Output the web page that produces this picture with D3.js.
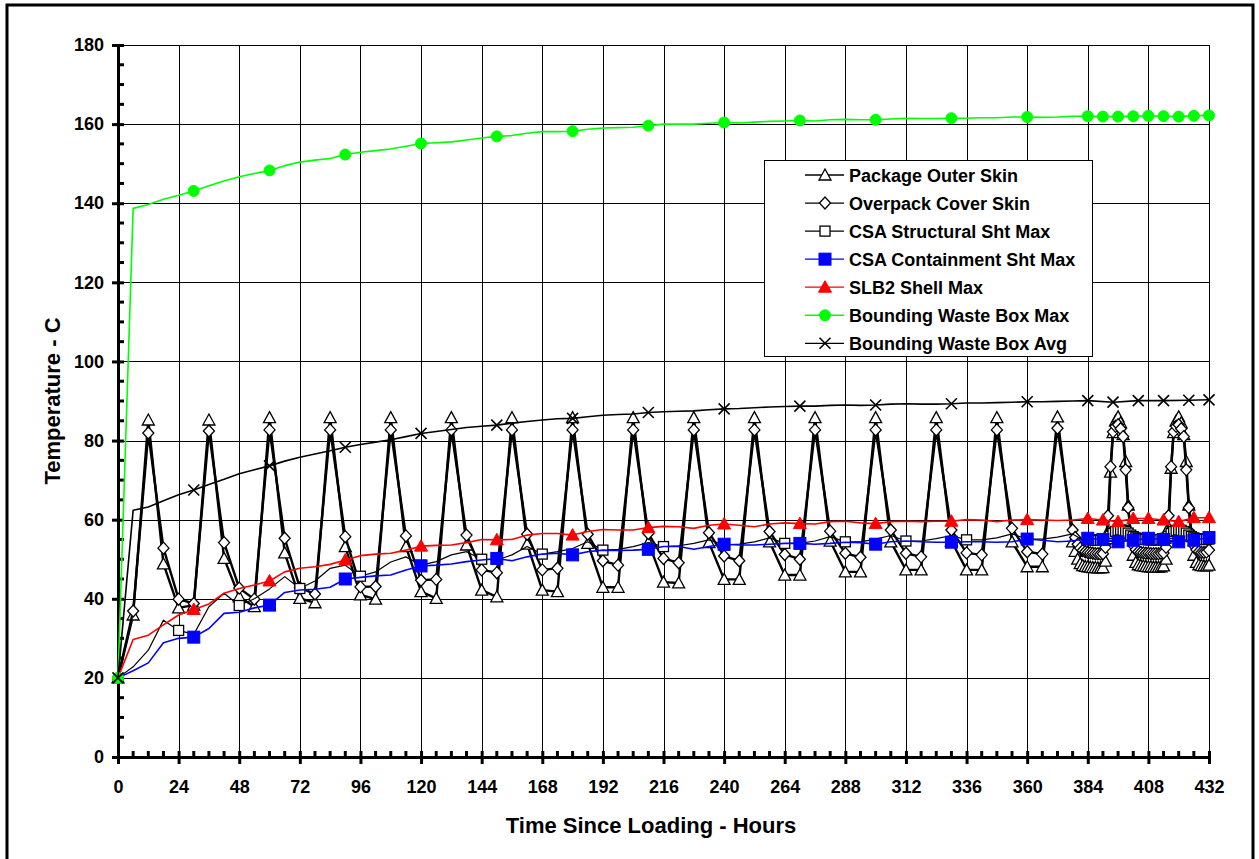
<!DOCTYPE html>
<html>
<head>
<meta charset="utf-8">
<script src="https://cdn.jsdelivr.net/npm/d3@7/dist/d3.min.js"></script>
<style>
  html, body { margin: 0; padding: 0; background: #fff; }
  svg { display: block; font-family: "Liberation Sans", Arial, sans-serif; }
</style>
</head>
<body>
<svg id="chart" width="1259" height="859"></svg>
<script>
// ---------------- DATA ----------------
// main sampling grid (hours), every 6 h from 0 to 378
const hours = [0,6,12,18,24,30,36,42,48,54,60,66,72,78,84,90,96,102,108,114,120,126,132,138,144,150,156,162,168,174,180,186,192,198,204,210,216,222,228,234,240,246,252,258,264,270,276,282,288,294,300,306,312,318,324,330,336,342,348,354,360,366,372,378];
// hourly tail for the skin / structural sheet series
const hoursHourly = [379,380,381,382,383,384,385,386,387,388,389,390,391,392,393,394,395,396,397,398,399,400,401,402,403,404,405,406,407,408,409,410,411,412,413,414,415,416,417,418,419,420,421,422,423,424,425,426,427,428,429,430,431,432];
// 6-hourly tail for the other series
const hoursTail6 = [384,390,396,402,408,414,420,426,432];
const hoursTailAvg = [384,394,404,414,424,432];

const xTicks = [0,24,48,72,96,120,144,168,192,216,240,264,288,312,336,360,384,408,432];
const yTicks = [0,20,40,60,80,100,120,140,160,180];

const markHours24 = [24,48,72,96,120,144,168,192,216,240,264,288,312,336,360];
const markHours30 = [30,60,90,120,150,180,210,240,270,300,330,360];

const packageOuterSkin = [20,35.9,85.2,48.8,37.7,38.4, 85.2,50.2,40.5,38.0, 85.8,51.6,40.1,39.0, 85.8,53.2,41.0,39.9, 85.8,53.2,41.8,40.1, 85.8,53.6,42.2,40.5, 85.8,53.8,42.2,41.8, 85.8,54.0,42.9,42.9, 85.8,54.2,44.2,44.0, 85.8,54.2,44.9,44.9, 85.8,54.4,46.0,46.0, 85.8,54.6,46.8,46.8, 85.8,54.4,47.3,47.3, 85.8,54.6,47.3,47.3, 85.8,54.4,48.1,48.1, 86.0,54.4];
const packageOuterSkinTail = [52.0,50.0,48.9,48.4,48.2,48.1,48.0,47.9,47.9,47.8,47.8,47.9,49.5,57.0,72.0,82.0,85.0,86.0,84.5,81.5,74.7,63.7,56.0,51.0,49.2,48.6,48.4,48.3,48.2,48.1,48.1,48.0,48.0,48.0,48.1,48.3,50.0,58.0,73.0,82.0,85.0,86.0,84.5,81.5,74.7,63.7,56.0,51.0,49.2,48.6,48.4,48.3,48.3,48.5];

const overpackCoverSkin = [20,36.9,81.9,52.8,39.9,38.8, 82.4,54.2,42.7,39.9, 82.7,55.3,42.8,41.2, 82.7,55.7,43.0,43.1, 82.7,55.9,44.7,44.9, 82.7,56.1,47.3,46.6, 82.7,56.3,47.3,47.7, 82.7,56.3,49.6,48.5, 82.7,56.5,50.2,49.1, 82.7,56.7,50.8,49.6, 82.7,57.0,51.2,50.0, 82.7,57.1,51.5,50.5, 82.7,57.4,51.5,50.6, 82.7,57.4,51.6,51.1, 82.7,57.8,51.9,51.3, 83.1,57.4];
const overpackCoverSkinTail = [55.5,53.8,52.8,52.2,51.9,51.7,51.6,51.5,51.4,51.4,51.3,51.4,53.0,61.0,73.4,82.2,83.6,84.0,83.0,81.0,72.6,63.0,56.5,53.5,52.4,51.9,51.7,51.6,51.5,51.5,51.4,51.4,51.4,51.4,51.5,51.6,53.0,61.0,73.4,82.2,83.6,84.0,83.0,81.0,72.6,63.0,56.5,53.5,52.4,51.9,51.7,51.7,51.8,52.3];

const csaStructural = [20,22.8,27.0,34.6,32.0,31.0, 38.0,41.4,38.3,40.0, 42.5,45.6,42.6,44.5, 47.7,48.5,45.7,46.8, 49.3,50.6,48.5,49.4, 51.1,51.9,50.0,49.8, 51.1,53.2,51.3,51.9, 52.7,54.4,52.3,52.5, 53.2,54.2,53.2,53.4, 54.0,54.9,53.6,53.8, 54.4,55.4,54.0,54.0, 54.6,55.7,54.4,54.4, 55.1,56.0,54.6,54.6, 55.2,56.0,54.9,54.9, 55.4,56.4,55.1,55.1, 55.6,56.4];
const csaStructuralTail = [56.0,55.6,55.3,55.1,55.0,55.0,54.9,54.9,54.8,54.8,54.8,54.8,54.9,55.2,55.8,56.5,57.0,57.3,57.4,57.3,57.0,56.6,56.1,55.7,55.4,55.2,55.1,55.0,55.0,54.9,54.9,54.9,54.9,54.9,55.0,55.1,55.3,55.8,56.5,57.0,57.3,57.4,57.3,57.0,56.6,56.1,55.7,55.4,55.2,55.1,55.0,55.0,55.0,55.1];

const csaContainment = [20,21.8,23.8,28.9,30.0,30.3, 32.5,36.3,36.6,37.7, 38.4,41.6,42.2,42.4, 42.9,45.0,45.4,45.8, 46.0,47.3,48.3,48.5, 48.8,49.4,49.8,50.2, 49.6,50.6,51.3,51.5, 51.1,51.9,52.3,52.2, 52.3,52.5,53.2,53.2, 52.5,53.2,53.8,53.6, 53.6,53.8,54.0,54.0, 53.8,54.0,54.3,54.2, 53.8,54.4,54.6,54.4, 54.3,54.3,54.4,54.4, 54.3,54.4,55.1,54.8, 54.4,54.6];
const csaContainmentTail = [55.3,55.0,54.4,54.8,55.3,55.0,54.4,54.8,55.5];

const slb2Shell = [20,29.7,30.8,33.4,35.9,37.3, 38.7,41.4,42.6,43.5, 44.5,46.8,47.7,48.1, 48.7,49.8,50.9,51.3, 51.5,52.3,53.3,53.5, 53.6,54.2,55.0,54.9, 55.0,56.1,56.5,56.5, 56.1,57.0,57.5,57.4, 57.4,58.0,58.3,58.2, 57.8,58.6,58.9,58.6, 58.2,58.9,59.2,59.0, 58.9,59.5,59.6,59.2, 59.0,59.5,59.6,59.5, 59.6,59.6,60.0,59.9, 59.5,59.9,60.0,59.9, 59.8,59.9];
const slb2ShellTail = [60.3,59.9,59.5,60.3,60.3,59.9,59.5,60.5,60.5];

const wasteBoxMax = [20,138.7,139.7,141.0,142.0,143.1, 144.4,145.6,146.7,147.5, 148.3,149.5,150.4,150.9, 151.3,152.3,152.9,153.3, 153.7,154.4,155.1,155.3, 155.5,156.0,156.5,156.9, 157.1,157.7,158.1,158.1, 158.2,158.7,159.0,159.1, 159.2,159.6,160.0,160.0, 160.0,160.2,160.4,160.3, 160.5,160.7,160.8,160.9, 160.8,161.1,161.2,161.1, 161.1,161.3,161.5,161.4, 161.4,161.5,161.5,161.6, 161.6,161.8,161.8,161.7, 161.8,162.0];
const wasteBoxMaxTail = [162.0,161.9,161.9,162.0,162.1,162.0,161.9,162.1,162.2];

const wasteBoxAvg = [20,62.4,63.2,64.8,66.3,67.5, 68.9,70.2,71.6,72.6, 73.6,74.8,75.8,76.6, 77.4,78.3,79.0,79.6, 80.2,81.0,81.8,82.3, 82.8,83.3,83.6,83.9, 84.4,84.8,85.2,85.5, 85.6,86.0,86.4,86.6, 86.7,87.1,87.3,87.4, 87.5,87.8,88.0,88.1, 88.3,88.5,88.6,88.7, 88.7,88.9,89.0,88.9, 89.0,89.2,89.3,89.2, 89.2,89.3,89.5,89.5, 89.6,89.7,89.8,89.8, 89.9,90.0];
const wasteBoxAvgTail = [90.1,89.7,90.1,90.1,90.2,90.3];

const seriesNames = ["Package Outer Skin","Overpack Cover Skin","CSA Structural Sht Max","CSA Containment Sht Max","SLB2 Shell Max","Bounding Waste Box Max","Bounding Waste Box Avg"];

// ---------------- BUILD ----------------
const zip = (h, v) => h.map((t, i) => ({t, v: v[i]}));

const series = [
  { name: seriesNames[0], pts: zip(hours, packageOuterSkin).concat(zip(hoursHourly, packageOuterSkinTail)),
    marks: p => true, color: "#000", width: 2.4, marker: "tri" },
  { name: seriesNames[1], pts: zip(hours, overpackCoverSkin).concat(zip(hoursHourly, overpackCoverSkinTail)),
    marks: p => true, color: "#000", width: 2.4, marker: "dia" },
  { name: seriesNames[2], pts: zip(hours, csaStructural).concat(zip(hoursHourly, csaStructuralTail)),
    marks: p => markHours24.includes(p.t) || p.t >= 384, color: "#000", width: 1.2, marker: "sqw" },
  { name: seriesNames[3], pts: zip(hours, csaContainment).concat(zip(hoursTail6, csaContainmentTail)),
    marks: p => markHours30.includes(p.t) || p.t >= 384, color: "#0000FF", width: 1.6, marker: "sqb" },
  { name: seriesNames[4], pts: zip(hours, slb2Shell).concat(zip(hoursTail6, slb2ShellTail)),
    marks: p => markHours30.includes(p.t) || p.t >= 384, color: "#FF0000", width: 1.6, marker: "trr" },
  { name: seriesNames[5], pts: zip(hours, wasteBoxMax).concat(zip(hoursTail6, wasteBoxMaxTail)),
    marks: p => p.t === 0 || markHours30.includes(p.t) || p.t >= 384, color: "#00FF00", width: 1.6, marker: "cir" },
  { name: seriesNames[6], pts: zip(hours, wasteBoxAvg).concat(zip(hoursTailAvg, wasteBoxAvgTail)),
    marks: p => p.t === 0 || markHours30.includes(p.t) || p.t >= 384, color: "#000", width: 1.6, marker: "x" }
];

const svg = d3.select("#chart");
const x = d3.scaleLinear().domain([0, 432]).range([118, 1209]);
const y = d3.scaleLinear().domain([0, 180]).range([757, 45]);

// outer frame
svg.append("rect").attr("x", 7).attr("y", 5).attr("width", 1246).attr("height", 900)
  .attr("fill", "none").attr("stroke", "#000").attr("stroke-width", 3);

// gridlines
const grid = svg.append("g");
grid.selectAll("line.gx").data(xTicks.filter(d => d > 0)).join("line")
  .attr("x1", d => Math.round(x(d)) + 0.5).attr("x2", d => Math.round(x(d)) + 0.5)
  .attr("y1", y(180)).attr("y2", y(0))
  .attr("stroke", "#000").attr("stroke-width", 1);
grid.selectAll("line.gy").data(yTicks.filter(d => d > 0)).join("line")
  .attr("y1", d => Math.round(y(d)) + 0.5).attr("y2", d => Math.round(y(d)) + 0.5)
  .attr("x1", x(0)).attr("x2", x(432))
  .attr("stroke", "#000").attr("stroke-width", 1);

// axes
const yAxis = d3.axisLeft(y).tickValues(yTicks).tickSize(6).tickSizeInner(6).tickPadding(8).tickFormat(d3.format("d"));
const xAxis = d3.axisBottom(x).tickValues(xTicks).tickSize(7).tickPadding(16).tickFormat(d3.format("d"));

const gy = svg.append("g").attr("transform", `translate(${x(0)},0)`).call(yAxis);
const gx = svg.append("g").attr("transform", `translate(0,${y(0)})`).call(xAxis);
[gy, gx].forEach(g => {
  g.select(".domain").attr("stroke", "#000").attr("stroke-width", 3);
  g.selectAll(".tick line").attr("stroke", "#000").attr("stroke-width", 3);
  g.selectAll(".tick text").attr("fill", "#000").style("font-size", "18px").style("font-weight", "bold")
    .style("font-family", '"Liberation Sans", Arial, sans-serif');
});
// major ticks cross the axis
gy.selectAll(".tick line").attr("x1", 6);
gx.selectAll(".tick line").attr("y1", -6);

// minor ticks (inside)
const yMinor = d3.range(0, 181, 5).filter(d => d % 20 !== 0);
svg.append("g").selectAll("line").data(yMinor).join("line")
  .attr("x1", x(0)).attr("x2", x(0) + 6).attr("y1", d => y(d)).attr("y2", d => y(d))
  .attr("stroke", "#000").attr("stroke-width", 3);
const xMinor = d3.range(0, 433, 6).filter(d => d % 24 !== 0);
svg.append("g").selectAll("line").data(xMinor).join("line")
  .attr("y1", y(0)).attr("y2", y(0) - 6).attr("x1", d => x(d)).attr("x2", d => x(d))
  .attr("stroke", "#000").attr("stroke-width", 3);

// axis titles
svg.append("text").attr("transform", `translate(60,401) rotate(-90)`)
  .attr("text-anchor", "middle").style("font-size", "22px").style("font-weight", "bold")
  .text("Temperature - C");
svg.append("text").attr("x", 651).attr("y", 833)
  .attr("text-anchor", "middle").style("font-size", "22px").style("font-weight", "bold")
  .text("Time Since Loading - Hours");

// marker painter
function drawMarker(g, type) {
  switch (type) {
    case "tri":
      g.append("path").attr("d", "M0,-6L6,5L-6,5Z").attr("fill", "#fff").attr("stroke", "#000").attr("stroke-width", 1.3); break;
    case "dia":
      g.append("path").attr("d", "M0,-6L5.5,0L0,6L-5.5,0Z").attr("fill", "#fff").attr("stroke", "#000").attr("stroke-width", 1.3); break;
    case "sqw":
      g.append("rect").attr("x", -5).attr("y", -5).attr("width", 10).attr("height", 10).attr("fill", "#fff").attr("stroke", "#000").attr("stroke-width", 1.3); break;
    case "sqb":
      g.append("rect").attr("x", -6).attr("y", -6).attr("width", 12).attr("height", 12).attr("fill", "#0000FF").attr("stroke", "#0000FF").attr("stroke-width", 1); break;
    case "trr":
      g.append("path").attr("d", "M0,-6.5L6.5,5L-6.5,5Z").attr("fill", "#FF0000").attr("stroke", "#FF0000").attr("stroke-width", 1); break;
    case "cir":
      g.append("circle").attr("r", 5.5).attr("fill", "#00FF00").attr("stroke", "#00FF00").attr("stroke-width", 1); break;
    case "x":
      g.append("path").attr("d", "M-5.5,-5.5L5.5,5.5M-5.5,5.5L5.5,-5.5").attr("fill", "none").attr("stroke", "#000").attr("stroke-width", 1.6); break;
  }
}

const line = d3.line().x(d => x(d.t)).y(d => y(d.v));
const plot = svg.append("g");
series.forEach(s => {
  const g = plot.append("g");
  g.append("path").datum(s.pts).attr("d", line).attr("fill", "none")
    .attr("stroke", s.color).attr("stroke-width", s.width).attr("stroke-linejoin", "round");
  g.selectAll("g.m").data(s.pts.filter(s.marks)).join("g")
    .attr("transform", d => `translate(${x(d.t)},${y(d.v)})`)
    .each(function() { drawMarker(d3.select(this), s.marker); });
});

// legend
const lg = svg.append("g");
lg.append("rect").attr("x", 764.5).attr("y", 160.5).attr("width", 328).attr("height", 196)
  .attr("fill", "#fff").attr("stroke", "#000").attr("stroke-width", 1);
series.forEach((s, i) => {
  const cy = 175 + i * 28.05;
  const row = lg.append("g").attr("transform", `translate(0,${cy})`);
  row.append("line").attr("x1", 805).attr("x2", 844).attr("y1", 0).attr("y2", 0)
    .attr("stroke", s.color).attr("stroke-width", 1.3);
  drawMarker(row.append("g").attr("transform", "translate(825,0)"), s.marker);
  row.append("text").attr("x", 849).attr("y", 6.5).style("font-size", "18px").style("font-weight", "bold")
    .text(s.name);
});
</script>
</body>
</html>
